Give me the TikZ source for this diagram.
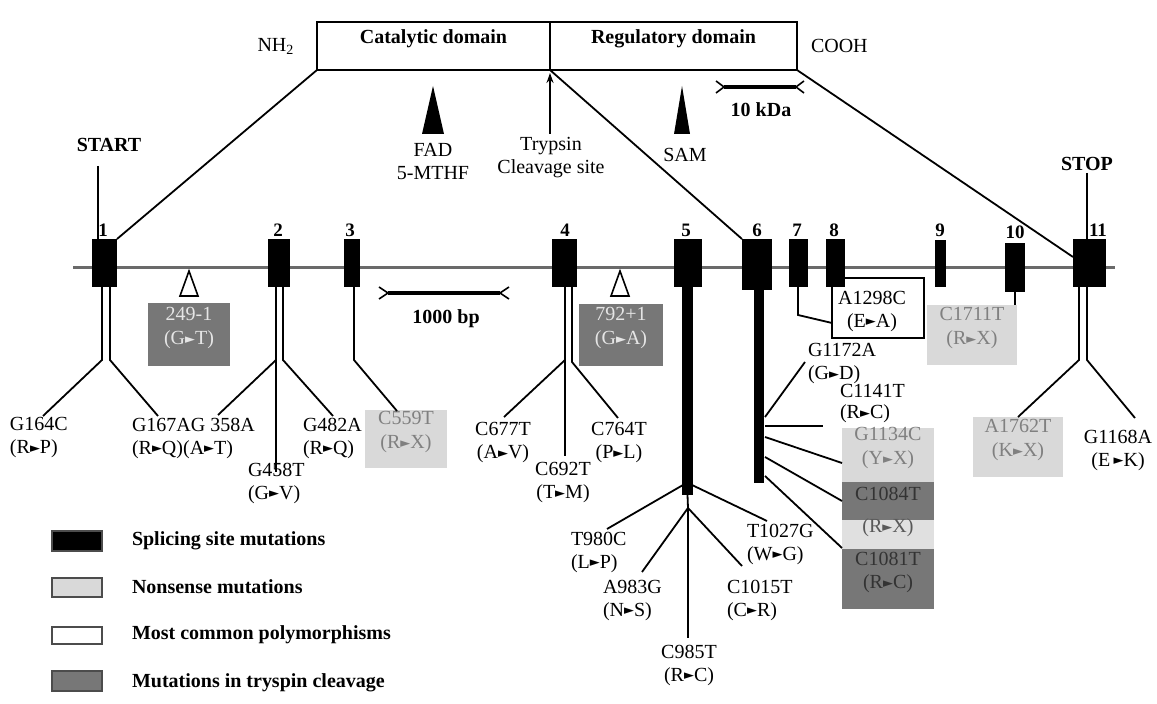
\documentclass[tikz,border=0pt]{standalone}
\usepackage{fontspec}
\setmainfont{Liberation Serif}
\newfontfamily\symfont{DejaVu Sans}
\usetikzlibrary{fit,arrows.meta}
\newcommand{\rar}{{\symfont\fontsize{6.5}{6.5}\selectfont\raisebox{0.15ex}{►}}}
\definecolor{dkgray}{HTML}{777777}
\definecolor{ltgray}{HTML}{D9D9D9}
\definecolor{genegray}{HTML}{6A6A6A}
\begin{document}
\begin{tikzpicture}[x=0.5pt,y=-0.5pt,
  every node/.style={inner sep=0pt,outer sep=0pt},
  mfont/.style={font=\fontsize{10}{11.5}\selectfont},
  lab/.style={mfont,align=center},
  labl/.style={mfont,align=left,anchor=west},
  bfnt/.style={font=\bfseries\fontsize{10}{12}\selectfont},
  exnum/.style={font=\bfseries\fontsize{9.5}{10}\selectfont},
  exon/.style={fill=black},
  conn/.style={line width=0.9pt},
  dbox/.style={fill=dkgray,align=center,text=white!90!black,font=\fontsize{10}{12}\selectfont},
  lbox/.style={fill=ltgray,align=center,text=black!50,font=\fontsize{10}{12}\selectfont},
  legbox/.style={draw=black!70,line width=0.9pt},
  legtxt/.style={font=\bfseries\fontsize{10}{12}\selectfont,anchor=west},
  scalebar/.style={line width=2pt},
  fork/.style={line width=0.8pt},
]
\useasboundingbox (0,0) rectangle (1157,704);
\fill[white] (0,0) rectangle (1157,704);

% gene line
\coordinate (gL) at (73,268);
\coordinate (gR) at (1115,268);
\draw[genegray,line width=1.5pt] (gL) -- (gR);

% exons
\node[exon,fit={(92,239)(117,287)}] (e1) {};
\node[exon,fit={(268,239)(290,287)}] (e2) {};
\node[exon,fit={(344,239)(360,287)}] (e3) {};
\node[exon,fit={(552,239)(577,287)}] (e4) {};
\node[exon,fit={(674,239)(702,287)}] (e5) {};
\node[exon,fit={(742,239)(772,290)}] (e6) {};
\node[exon,fit={(789,239)(808,287)}] (e7) {};
\node[exon,fit={(826,239)(845,287)}] (e8) {};
\node[exon,fit={(935,240)(946,287)}] (e9) {};
\node[exon,fit={(1005,243)(1025,292)}] (e10) {};
\node[exon,fit={(1073,239)(1106,287)}] (e11) {};
\node[exon,fit={(682,287)(693,495)}] (s5) {};
\node[exon,fit={(754,287)(764,483)}] (s6) {};

\node[exnum] (n1) at (103,230) {1};
\node[exnum] (n2) at (278,230) {2};
\node[exnum] (n3) at (350,230) {3};
\node[exnum] (n4) at (565,230) {4};
\node[exnum] (n5) at (686,230) {5};
\node[exnum] (n6) at (757,230) {6};
\node[exnum] (n7) at (797,230) {7};
\node[exnum] (n8) at (834,230) {8};
\node[exnum] (n9) at (940,230) {9};
\node[exnum] (n10) at (1015,232) {10};
\node[exnum] (n11) at (1098,230) {11};

% protein
\node[draw,line width=0.9pt,fit={(317,22)(550,70)},bfnt] (cat) {Catalytic domain};
\node[draw,line width=0.9pt,fit={(550,22)(797,70)},bfnt] (reg) {Regulatory domain};
\node[mfont] (nh2) at (276,46) {NH\textsubscript{2}};
\node[mfont,anchor=west] (cooh) at (811,46) {COOH};
\coordinate (e11hit) at (1073,257);
\draw[conn] (cat.south west) -- (e1.north east);
\draw[conn] (cat.south east) -- (e6.north west);
\draw[conn] (reg.south east) -- (e11hit);

% FAD, trypsin, SAM
\fill (433,86) -- (422,134) -- (444,134) -- cycle;
\node[lab] (fad) at (433,162) {FAD\\5-MTHF};
\node[lab] (tryp) at (551,158) {Trypsin\\Cleavage site};
\coordinate (trtail) at (550,134);
\coordinate (trtip) at (550,73);
\draw[line width=0.8pt,-{Stealth[length=5pt,width=3.5pt]}] (trtail) -- (trtip);
\fill (682,86) -- (674,134) -- (690,134) -- cycle;
\node[mfont] (sam) at (685,155) {SAM};

% scale bars
\coordinate (k1) at (724,87);
\coordinate (k2) at (796,87);
\draw[scalebar] (k1) -- (k2);
\draw[fork] (k1) ++(-8,-6) -- (k1) -- ++(-8,6);
\draw[fork] (k2) ++(8,-6) -- (k2) -- ++(8,6);
\node[bfnt] (kda) at (761,110) {10 kDa};
\coordinate (b1) at (388,293);
\coordinate (b2) at (500,293);
\draw[scalebar] (b1) -- (b2);
\draw[fork] (b1) ++(-9,-6) -- (b1) -- ++(-9,6);
\draw[fork] (b2) ++(9,-6) -- (b2) -- ++(9,6);
\node[bfnt] (bp) at (446,319) {1000 bp};

% START / STOP
\node[bfnt] (start) at (109,145) {START};
\coordinate (stA) at (98,166);
\draw[conn] (stA) -- (e1.north -| stA);
\node[bfnt] (stop) at (1087,164) {STOP};
\coordinate (spA) at (1087,173);
\draw[conn] (spA) -- (e11.north -| spA);

% intron triangles and splice boxes
\draw[fill=white,line width=0.8pt] (189,271) -- (180,296) -- (198,296) -- cycle;
\draw[fill=white,line width=0.8pt] (620,271) -- (611,296) -- (629,296) -- cycle;
\node[dbox,fit={(148,303)(230,366)}] (m249) {249-1\\(G\rar T)};
\node[dbox,fit={(579,304)(663,366)}] (m792) {792+1\\(G\rar A)};

% exon 1
\coordinate (x1a) at (102,360);
\coordinate (x1b) at (110,360);
\coordinate (t1a) at (43,416);
\coordinate (t1b) at (158,416);
\draw[conn] (e1.south -| x1a) -- (x1a) -- (t1a);
\draw[conn] (e1.south -| x1b) -- (x1b) -- (t1b);
\node[labl] (g164c) at (10,438) {G164C\\(R\rar P)};
\node[labl] (g167a) at (132,438) {G167AG 358A\\(R\rar Q)(A\rar T)};

% exon 2
\coordinate (x2a) at (276,360);
\coordinate (x2b) at (283,360);
\coordinate (t2a) at (218,415);
\coordinate (t2b) at (276,472);
\coordinate (t2c) at (333,416);
\draw[conn] (e2.south -| x2a) -- (x2a) -- (t2b);
\draw[conn] (x2a) -- (t2a);
\draw[conn] (e2.south -| x2b) -- (x2b) -- (t2c);
\node[labl] (g458t) at (248,483) {G458T\\(G\rar V)};
\node[labl] (g482a) at (303,438) {G482A\\(R\rar Q)};

% exon 3
\node[lbox,fit={(365,410)(447,468)}] (c559t) {C559T\\(R\rar X)};
\coordinate (x3) at (354,360);
\coordinate (t3) at (397,411);
\draw[conn] (e3.south -| x3) -- (x3) -- (t3);

% exon 4
\coordinate (x4a) at (565,360);
\coordinate (x4b) at (572,362);
\coordinate (t4a) at (504,417);
\coordinate (t4b) at (565,456);
\coordinate (t4c) at (618,418);
\draw[conn] (e4.south -| x4a) -- (x4a) -- (t4b);
\draw[conn] (x4a) -- (t4a);
\draw[conn] (e4.south -| x4b) -- (x4b) -- (t4c);
\node[lab] (c677t) at (503,443) {C677T\\(A\rar V)};
\node[lab] (c692t) at (563,483) {C692T\\(T\rar M)};
\node[lab] (c764t) at (619,443) {C764T\\(P\rar L)};

% exon 5
\coordinate (x5l) at (683,485);
\coordinate (x5r) at (692,485);
\coordinate (x5c) at (688,508);
\coordinate (t5a) at (607,529);
\coordinate (t5b) at (642,572);
\coordinate (t5c) at (688,638);
\coordinate (t5d) at (742,566);
\coordinate (t5e) at (767,521);
\draw[conn] (x5l) -- (t5a);
\draw[conn] (x5r) -- (t5e);
\draw[conn] (s5.south) -- (x5c) -- (t5c);
\draw[conn] (x5c) -- (t5b);
\draw[conn] (x5c) -- (t5d);
\node[labl] (t980c) at (571,552) {T980C\\(L\rar P)};
\node[labl] (a983g) at (603,600) {A983G\\(N\rar S)};
\node[lab] (c985t) at (689,665) {C985T\\(R\rar C)};
\node[labl] (c1015t) at (727,600) {C1015T\\(C\rar R)};
\node[labl] (t1027g) at (747,544) {T1027G\\(W\rar G)};

% exon 6
\node[lbox,fit={(842,428)(934,482)}] (g1134c) {G1134C\\(Y\rar X)};
\node[fill=dkgray,fit={(842,482)(934,520)},text=black!80,mfont] (c1084t) {C1084T};
\node[fill=black!12,fit={(842,520)(934,549)},text=black!65,mfont] (rx) {(R\rar X)};
\node[fill=dkgray,fit={(842,549)(934,609)},align=center,text=black!80,mfont] (c1081t) {C1081T\\(R\rar C)};
\coordinate (x6a) at (765,417);
\coordinate (x6b) at (765,426);
\coordinate (x6c) at (765,437);
\coordinate (x6d) at (765,457);
\coordinate (x6e) at (765,476);
\coordinate (t6a) at (805,362);
\coordinate (t6b) at (823,426);
\coordinate (t6c) at (842,463);
\coordinate (t6d) at (842,501);
\coordinate (t6e) at (842,548);
\draw[conn] (x6a) -- (t6a);
\draw[conn] (x6b) -- (t6b);
\draw[conn] (x6c) -- (t6c);
\draw[conn] (x6d) -- (t6d);
\draw[conn] (x6e) -- (t6e);
\node[labl] (g1172a) at (808,364) {G1172A\\(G\rar D)};
\node[labl,font=\fontsize{10}{10.5}\selectfont] (c1141t) at (840,404) {C1141T\\(R\rar C)};

% exon 7 and 8
\coordinate (x7) at (798,315);
\coordinate (t7) at (832,323);
\draw[conn] (e7.south -| x7) -- (x7) -- (t7);
\coordinate (b8a) at (832,338);
\coordinate (b8b) at (924,338);
\coordinate (b8c) at (924,278);
\draw[conn] (e8.south -| b8a) -- (b8a) -- (b8b) -- (b8c) -- (e8.east |- b8c);
\node[lab] (a1298c) at (872,311) {A1298C\\(E\rar A)};

% exon 10
\node[lbox,fit={(927,305)(1017,365)}] (c1711t) {C1711T\\(R\rar X)};
\draw[conn] (e10.south) -- (c1711t.north -| e10.south);

% exon 11
\coordinate (x11a) at (1079,360);
\coordinate (x11b) at (1087,360);
\coordinate (t11b) at (1135,418);
\node[lbox,fit={(973,417)(1063,477)}] (a1762t) {A1762T\\(K\rar X)};
\node[lab] (g1168a) at (1118,450) {G1168A\\(E\,\rar K)};
\draw[conn] (e11.south -| x11a) -- (x11a) -- (a1762t.north);
\draw[conn] (e11.south -| x11b) -- (x11b) -- (t11b);

% legend
\node[legbox,fill=black,fit={(52,531)(102,551)}] (lg1) {};
\node[legbox,fill=ltgray,fit={(52,578)(102,597)}] (lg2) {};
\node[legbox,fill=white,fit={(52,627)(102,644)}] (lg3) {};
\node[legbox,fill=dkgray,fit={(52,671)(102,691)}] (lg4) {};
\node[legtxt] (lt1) at (132,541) {Splicing site mutations};
\node[legtxt] (lt2) at (132,587) {Nonsense mutations};
\node[legtxt] (lt3) at (132,635) {Most common polymorphisms};
\node[legtxt] (lt4) at (132,683) {Mutations in tryspin cleavage};
\end{tikzpicture}
\end{document}
